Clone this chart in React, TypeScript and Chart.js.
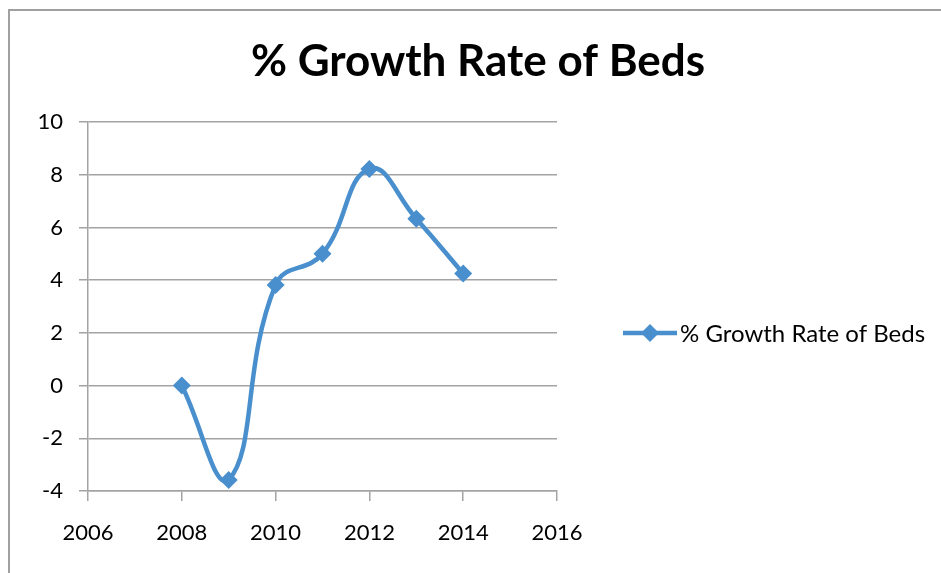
import React, { useEffect, useRef } from "react";
import { Chart, registerables } from "chart.js";

Chart.register(...registerables);

const years = [2008, 2009, 2010, 2011, 2012, 2013, 2014];
const growthRate = [0, -3.58, 3.82, 5.0, 8.22, 6.33, 4.25];
const seriesName = "% Growth Rate of Beds";
const chartTitle = "% Growth Rate of Beds";
const xMin = 2006;
const xMax = 2016;
const xStep = 2;
const yMin = -4;
const yMax = 10;
const yStep = 2;

const LINE_COLOR = "#4a8fcd";
const GRID_COLOR = "#a3a3a3";
const FONT = "Lato, 'Noto Sans', sans-serif";

export default function App() {
  const ref = useRef<HTMLCanvasElement | null>(null);

  useEffect(() => {
    if (!ref.current) return;
    const decor = {
      id: "decor",
      beforeDraw(chart: any) {
        const ctx = chart.ctx;
        ctx.save();
        ctx.fillStyle = "#fff";
        ctx.fillRect(0, 0, chart.width, chart.height);
        ctx.strokeStyle = "#a0a0a0";
        ctx.lineWidth = 2;
        ctx.beginPath();
        ctx.moveTo(9, chart.height + 5);
        ctx.lineTo(9, 10);
        ctx.lineTo(chart.width + 5, 10);
        ctx.stroke();
        ctx.restore();
      },
      afterDraw(chart: any) {
        const ctx = chart.ctx;
        ctx.save();
        ctx.fillStyle = "#000";
        ctx.font = `bold 44px ${FONT}`;
        ctx.textAlign = "center";
        ctx.textBaseline = "middle";
        ctx.fillText(chartTitle, 478, 62);
        // legend
        const ly = 333;
        ctx.strokeStyle = LINE_COLOR;
        ctx.lineWidth = 4.5;
        ctx.beginPath();
        ctx.moveTo(623, ly);
        ctx.lineTo(677, ly);
        ctx.stroke();
        ctx.fillStyle = LINE_COLOR;
        ctx.beginPath();
        ctx.moveTo(650, ly - 9);
        ctx.lineTo(659, ly);
        ctx.lineTo(650, ly + 9);
        ctx.lineTo(641, ly);
        ctx.closePath();
        ctx.fill();
        ctx.fillStyle = "#000";
        ctx.font = `24px ${FONT}`;
        ctx.textAlign = "left";
        ctx.fillText(seriesName, 680, ly + 1);
        ctx.restore();
      },
    };

    const chart = new Chart(ref.current, {
      type: "line",
      data: {
        datasets: [
          {
            label: seriesName,
            data: years.map((y, i) => ({ x: y, y: growthRate[i] })),
            borderColor: LINE_COLOR,
            backgroundColor: LINE_COLOR,
            borderWidth: 4.5,
            pointStyle: "rectRot",
            pointRadius: 9,
            pointBorderWidth: 0,
            tension: 0.45,
            fill: false,
          },
        ],
      },
      options: {
        responsive: false,
        animation: false,
        layout: { padding: { left: 0, top: 122, right: 941 - 557, bottom: 0 } },
        plugins: {
          legend: { display: false },
          title: { display: false },
          tooltip: { enabled: false },
        },
        scales: {
          x: {
            type: "linear",
            min: xMin,
            max: xMax,
            afterFit: (s: any) => {
              s.height = 573 - 491;
            },
            ticks: {
              stepSize: xStep,
              color: "#000",
              font: { family: FONT, size: 22 },
              padding: 19,
              maxRotation: 0,
              callback: (v: any) => String(v),
            },
            grid: {
              drawOnChartArea: false,
              drawTicks: true,
              tickLength: 10,
              color: GRID_COLOR,
              lineWidth: 1.5,
            },
            border: { display: true, color: GRID_COLOR, width: 1.5 },
          },
          y: {
            type: "linear",
            min: yMin,
            max: yMax,
            afterFit: (s: any) => {
              s.width = 88;
            },
            ticks: {
              stepSize: yStep,
              color: "#000",
              font: { family: FONT, size: 22 },
              padding: 16,
            },
            grid: {
              drawOnChartArea: true,
              drawTicks: true,
              tickLength: 9,
              color: GRID_COLOR,
              lineWidth: 1.5,
            },
            border: { display: true, color: GRID_COLOR, width: 1.5 },
          },
        },
      },
      plugins: [decor],
    } as any);
    return () => chart.destroy();
  }, []);

  return (
    <div style={{ position: "absolute", left: 0, top: 0, width: 941, height: 573 }}>
      <canvas ref={ref} width={941} height={573} style={{ display: "block" }} />
    </div>
  );
}
